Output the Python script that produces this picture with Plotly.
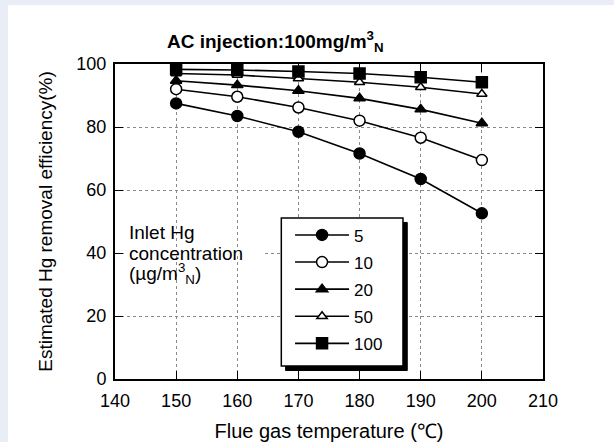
import plotly.graph_objects as go

temps = [150, 160, 170, 180, 190, 200]
conc_labels = ["5", "10", "20", "50", "100"]
eff_5 = [87.5, 83.5, 78.5, 71.6, 63.5, 52.6]
eff_10 = [92.0, 89.6, 86.2, 82.0, 76.6, 69.5]
eff_20 = [94.7, 93.3, 91.5, 89.1, 85.6, 81.2]
eff_50 = [97.0, 96.5, 95.4, 94.2, 92.6, 90.5]
eff_100 = [98.3, 98.1, 97.6, 97.0, 95.8, 94.2]
x_ticks = [140, 150, 160, 170, 180, 190, 200, 210]
y_ticks = [0, 20, 40, 60, 80, 100]

series = [eff_5, eff_10, eff_20, eff_50, eff_100]
symbols = ["circle", "circle-open", "triangle-up", "triangle-up-open", "square"]
msizes = [11, 11, 10, 9, 11]

FONT = "Liberation Sans, Arial, sans-serif"

fig = go.Figure()
for i, (lab, ys, sym, ms) in enumerate(zip(conc_labels, series, symbols, msizes)):
    openm = sym.endswith("open")
    fig.add_trace(go.Scatter(
        x=temps, y=ys, name=lab, mode="lines+markers",
        legendgroup=f"g{i}",
        line=dict(color="black", width=1.6),
        marker=dict(symbol=sym.replace("-open", "") if openm else sym, size=ms,
                    color="white" if openm else "black",
                    line=dict(color="black", width=1.5)),
    ))

# legend box + drop shadow (data coords)
bx0, bx1, by0, by1 = 167.2, 187.1, 4.1, 51.1
fig.add_shape(type="rect", x0=bx0 + 0.7, x1=bx1 + 0.7, y0=by0 - 1.4, y1=by1 - 1.4,
              line=dict(color="black", width=1), fillcolor="black", layer="above")
fig.add_shape(type="rect", x0=bx0, x1=bx1, y0=by0, y1=by1,
              line=dict(color="black", width=1.5), fillcolor="white", layer="above")
# white gap in the 40% gridline behind the "concentration" text
fig.add_shape(type="rect", x0=141.6, x1=164.2, y0=39.3, y1=40.7,
              line_width=0, fillcolor="white", layer="above")

fig.add_annotation(text="<b>AC injection:100mg/m<sup>3</sup><sub>N</sub></b>",
                   xref="paper", yref="paper", x=0.375, y=1.07, yanchor="middle",
                   showarrow=False,
                   font=dict(family=FONT, size=19, color="black"))
for txt, yy in [("Inlet Hg", 0.4635), ("concentration", 0.40),
                ("(µg/m<sup>3</sup><sub>N</sub>)", 0.3365)]:
    fig.add_annotation(text=txt, xref="paper", yref="paper", x=0.028, y=yy,
                       xanchor="left", yanchor="middle", align="left", showarrow=False,
                       font=dict(family=FONT, size=19, color="black"))

axis_common = dict(showline=True, linecolor="black", linewidth=2, mirror="ticks",
                   ticks="inside", ticklen=8, tickwidth=1.2, tickcolor="black",
                   showgrid=True, gridcolor="#8a8a8a", griddash="dot", gridwidth=1,
                   zeroline=False, automargin=False,
                   tickfont=dict(family=FONT, size=18, color="black"))

fig.update_xaxes(range=[140, 210], tickvals=x_ticks, ticklabelstandoff=4, **axis_common,
                 title=dict(text="Flue gas temperature (℃)", standoff=20,
                            font=dict(family=FONT, size=20, color="black")))
fig.update_yaxes(range=[0, 100], tickvals=y_ticks, ticklabelstandoff=3, **axis_common,
                 title=dict(text="Estimated Hg removal efficiency(%)", standoff=19,
                            font=dict(family=FONT, size=19, color="black")))

fig.update_layout(
    width=606, height=437,
    margin=dict(l=107, r=71, t=59, b=63, autoexpand=False),
    paper_bgcolor="white", plot_bgcolor="white",
    showlegend=True,
    legend=dict(x=0.409, y=0.513, xanchor="left", yanchor="top",
                bgcolor="rgba(0,0,0,0)", borderwidth=0, itemwidth=54,
                tracegroupgap=2,
                font=dict(family=FONT, size=17, color="black")),
)

fig.write_html("out.html",
               post_script="document.body.style.margin='5px 0 0 8px';"
                           "document.body.style.background='#e9eef6';"
                           "document.body.style.overflow='hidden';")
